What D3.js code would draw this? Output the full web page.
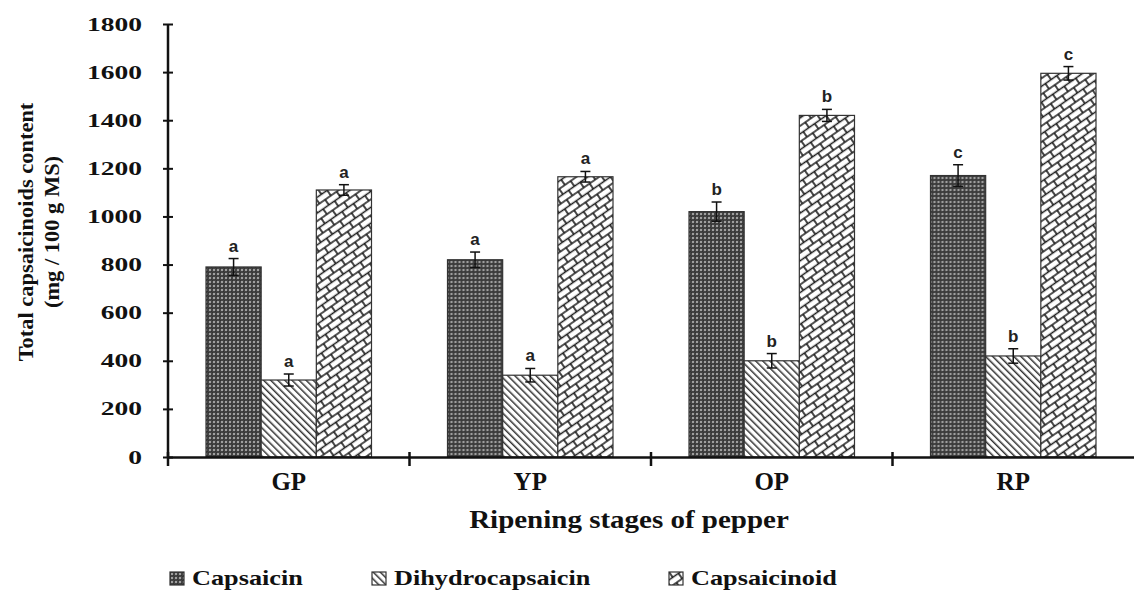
<!DOCTYPE html>
<html>
<head>
<meta charset="utf-8">
<script src="https://cdnjs.cloudflare.com/ajax/libs/d3/7.8.5/d3.min.js"></script>
<style>
  body { margin: 0; background: #fff; }
</style>
</head>
<body>
<div id="chart"></div>
<script>
const stages = ["GP", "YP", "OP", "RP"];
const seriesNames = ["Capsaicin", "Dihydrocapsaicin", "Capsaicinoid"];
const capsaicin = [790, 820, 1020, 1170];
const dihydro = [320, 340, 400, 420];
const capsaicinoid = [1110, 1165, 1420, 1595];
const capsaicinErr = [35, 32, 40, 45];
const dihydroErr = [25, 28, 30, 30];
const capsaicinoidErr = [22, 22, 25, 28];
const capsaicinLetters = ["a", "a", "b", "c"];
const dihydroLetters = ["a", "a", "b", "b"];
const capsaicinoidLetters = ["a", "a", "b", "c"];
const yTicks = [0, 200, 400, 600, 800, 1000, 1200, 1400, 1600, 1800];

const W = 1134, H = 591;
const margin = { top: 24, right: 0, bottom: 134, left: 168 };
const width = W - margin.left - margin.right;
const height = H - margin.top - margin.bottom;
const serif = '"Liberation Serif"';
const sans = '"Liberation Sans"';

const svg = d3.select("#chart").append("svg")
  .attr("width", W).attr("height", H);

// fill patterns
const defs = svg.append("defs");

const p1 = defs.append("pattern").attr("id", "pat0")
  .attr("patternUnits", "userSpaceOnUse").attr("width", 4).attr("height", 4);
p1.append("rect").attr("width", 4).attr("height", 4).attr("fill", "#444");
p1.append("circle").attr("cx", 2).attr("cy", 2).attr("r", 1).attr("fill", "#bdbdbd");
p1.append("circle").attr("cx", 0).attr("cy", 0).attr("r", 0.7).attr("fill", "#111");
p1.append("circle").attr("cx", 4).attr("cy", 4).attr("r", 0.7).attr("fill", "#111");

const p2 = defs.append("pattern").attr("id", "pat1")
  .attr("patternUnits", "userSpaceOnUse").attr("width", 5).attr("height", 5)
  .attr("patternTransform", "rotate(-45)");
p2.append("rect").attr("width", 5).attr("height", 5).attr("fill", "#fff");
p2.append("rect").attr("width", 1.5).attr("height", 5).attr("fill", "#333");

// brick-like pattern for capsaicinoid
const p3 = defs.append("pattern").attr("id", "pat2")
  .attr("patternUnits", "userSpaceOnUse").attr("width", 14).attr("height", 13)
  .attr("patternTransform", "rotate(-35)");
p3.append("rect").attr("width", 14).attr("height", 13).attr("fill", "#fff");
p3.append("path")
  .attr("d", "M0,0H14M0,6.5H14M0,13H14M0,0V6.5M7,6.5V13M14,0V6.5")
  .attr("stroke", "#1a1a1a").attr("stroke-width", 1.6).attr("fill", "none");

const g = svg.append("g").attr("transform", `translate(${margin.left},${margin.top})`);

const x0 = d3.scaleBand().domain(stages).range([0, width]).paddingInner(0);
const x1 = d3.scaleBand().domain(seriesNames)
  .range([38, x0.bandwidth() - 38]).padding(0);
const y = d3.scaleLinear().domain([0, 1800]).range([height, 0]);

const rows = stages.map((s, i) => ({
  stage: s,
  items: [
    { key: seriesNames[0], v: capsaicin[i], e: capsaicinErr[i], l: capsaicinLetters[i], k: 0 },
    { key: seriesNames[1], v: dihydro[i], e: dihydroErr[i], l: dihydroLetters[i], k: 1 },
    { key: seriesNames[2], v: capsaicinoid[i], e: capsaicinoidErr[i], l: capsaicinoidLetters[i], k: 2 }
  ]
}));

const groups = g.selectAll(".grp").data(rows).enter().append("g")
  .attr("class", "grp")
  .attr("transform", d => `translate(${x0(d.stage)},0)`);

groups.selectAll("rect").data(d => d.items).enter().append("rect")
  .attr("x", d => x1(d.key))
  .attr("y", d => y(d.v))
  .attr("width", x1.bandwidth())
  .attr("height", d => height - y(d.v))
  .attr("fill", d => `url(#pat${d.k})`)
  .attr("stroke", "#333")
  .attr("stroke-width", 1.2);

// error bars
const eb = groups.selectAll(".err").data(d => d.items).enter().append("g").attr("class", "err");
eb.append("line")
  .attr("x1", d => x1(d.key) + x1.bandwidth() / 2)
  .attr("x2", d => x1(d.key) + x1.bandwidth() / 2)
  .attr("y1", d => y(d.v + d.e)).attr("y2", d => y(d.v - d.e))
  .attr("stroke", "#111").attr("stroke-width", 1.5);
eb.selectAll(".cap").data(d => [[d, d.v + d.e], [d, d.v - d.e]]).enter().append("line")
  .attr("x1", d => x1(d[0].key) + x1.bandwidth() / 2 - 5)
  .attr("x2", d => x1(d[0].key) + x1.bandwidth() / 2 + 5)
  .attr("y1", d => y(d[1])).attr("y2", d => y(d[1]))
  .attr("stroke", "#111").attr("stroke-width", 1.5);

// significance letters
groups.selectAll(".lt").data(d => d.items).enter().append("text")
  .attr("class", "lt")
  .attr("x", d => x1(d.key) + x1.bandwidth() / 2)
  .attr("y", d => y(d.v + d.e) - 7)
  .attr("text-anchor", "middle")
  .style("font-family", sans)
  .style("font-size", "17px")
  .style("font-weight", "bold")
  .attr("fill", "#222")
  .text(d => d.l);

// y axis (labels are stretched wide in the original)
const yStretch = 1.45;
const yAxis = g.append("g")
  .call(d3.axisLeft(y).tickValues(yTicks).tickSize(5).tickPadding(26).tickFormat(d3.format("d")));
yAxis.select(".domain").attr("stroke", "#111").attr("stroke-width", 2.5)
  .attr("d", `M0,${height}V0`);
yAxis.selectAll(".tick line").attr("x2", 5).attr("x1", -5).attr("stroke", "#111").attr("stroke-width", 2);
yAxis.selectAll("text")
  .attr("x", -26 / yStretch)
  .attr("transform", `scale(${yStretch},1)`)
  .style("font-family", serif).style("font-weight", "bold").style("font-size", "19px")
  .attr("fill", "#111");

// x axis
const xAxis = g.append("g").attr("transform", `translate(0,${height})`)
  .call(d3.axisBottom(x0).tickSize(0).tickPadding(15));
xAxis.select(".domain").attr("stroke", "#111").attr("stroke-width", 2.5);
xAxis.selectAll("text")
  .style("font-family", serif).style("font-weight", "bold").style("font-size", "25px")
  .attr("fill", "#111");
g.append("g").selectAll("line").data(stages).enter().append("line")
  .attr("x1", d => x0(d)).attr("x2", d => x0(d))
  .attr("y1", height - 5).attr("y2", height + 9)
  .attr("stroke", "#111").attr("stroke-width", 2.5);

// titles
svg.append("text")
  .attr("transform", "translate(629,528) scale(1.16,1)")
  .attr("text-anchor", "middle")
  .style("font-family", serif).style("font-weight", "bold").style("font-size", "25px")
  .attr("fill", "#111")
  .text("Ripening stages of pepper");

const yt = svg.append("text")
  .attr("transform", "translate(33,232) rotate(-90) scale(1.07,1)")
  .attr("text-anchor", "middle")
  .attr("fill", "#111")
  .style("font-family", serif).style("font-weight", "bold").style("font-size", "21px");
yt.append("tspan").attr("x", 0).attr("dy", 0).text("Total capsaicinoids content");
yt.append("tspan").attr("x", 0).attr("dy", 26).text("(mg / 100 g MS)");

// legend
const legendX = [170, 372, 669];
const leg = svg.selectAll(".leg").data(seriesNames).enter().append("g")
  .attr("class", "leg")
  .attr("transform", (d, i) => `translate(${legendX[i]},572)`);
leg.append("rect").attr("width", 14).attr("height", 13)
  .attr("fill", (d, i) => `url(#pat${i})`)
  .attr("stroke", "#333").attr("stroke-width", 1.2);
leg.append("text")
  .attr("transform", "translate(22,13) scale(1.25,1)")
  .attr("fill", "#111")
  .style("font-family", serif).style("font-weight", "bold").style("font-size", "21px")
  .text(d => d);
</script>
</body>
</html>
